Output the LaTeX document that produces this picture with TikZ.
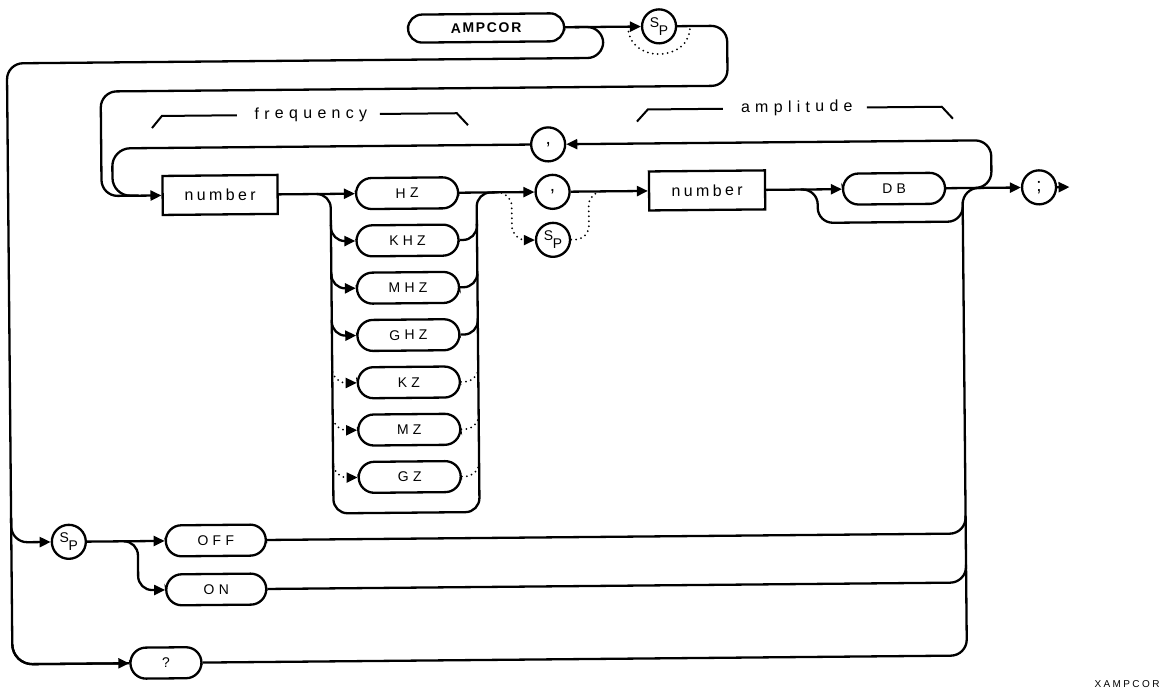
\documentclass[tikz,border=0pt]{standalone}
\usepackage{fontspec}
\setmainfont{Liberation Sans}
\newfontfamily\fcap[LetterSpace=30]{Liberation Sans}
\newfontfamily\flab[LetterSpace=33]{Liberation Sans}
\newfontfamily\fnum[LetterSpace=21]{Liberation Sans}
\newfontfamily\fbold[LetterSpace=12]{Liberation Sans Bold}
\newfontfamily\fsmall[LetterSpace=24]{Liberation Sans}
\usetikzlibrary{arrows.meta}
\newcommand{\spt}{\raisebox{3.5pt}{S}\kern-0.5pt\raisebox{-5pt}{P}}
\tikzset{
  ln/.style={line width=2.3pt},
  tip/.style={-{Triangle[length=11pt,width=10pt]}},
  arr/.style={ln,tip},
  dots/.style={line width=2pt, line cap=round, dash pattern=on 0pt off 5pt},
  darr/.style={dots,tip},
  pill/.style={draw, line width=2.3pt, rounded corners=15.5pt, minimum height=31pt, inner sep=0pt, font=\fontsize{14}{16}\fcap},
  numbox/.style={draw, line width=2.3pt, minimum width=115pt, minimum height=39pt, inner sep=0pt, font=\fontsize{16}{18}\fnum},
  circ/.style={draw, line width=2.3pt, circle, minimum size=34pt, inner sep=0pt, font=\fontsize{19}{21}\selectfont},
  spc/.style={circ, font=\fontsize{14}{16}\selectfont},
  lab/.style={anchor=base, inner sep=0pt, font=\fontsize{16}{18}\flab},
  brk/.style={line width=2pt},
}
\begin{document}
\begin{tikzpicture}[x=1pt,y=-1pt]
\path[fill=white] (0,0) rectangle (1175,690);
\useasboundingbox (0,0) rectangle (1175,690);
\begin{scope}[rotate around={0.53:(590,345)}, transform shape]
% ---------- nodes ----------
\node[pill, minimum width=156pt, minimum height=28pt, rounded corners=14pt, font=\fontsize{14}{16}\fbold\bfseries] (amp) at (489,27) {AMPCOR};
\node[spc] (sp1) at (662,27) {\spt};
\node[numbox] (num1) at (221.5,191.5) {number};
\foreach \n/\t/\y in {hz/HZ/191.5, khz/KHZ/238.8, mhz/MHZ/286.1, ghz/GHZ/333.4, kz/KZ/380.7, mz/MZ/428, gz/GZ/475.3}
  \node[pill, minimum width=102pt] (\n) at (408.5,\y) {\t};
\node[circ] (c1) at (554,191.5) {,};
\node[spc] (sp2) at (554,239.5) {\spt};
\node[numbox, minimum width=116pt] (num2) at (708.5,191.5) {number};
\node[pill, minimum width=102pt] (db) at (895.5,191.5) {DB};
\node[circ] (semi) at (1040.5,191.5) {;};
\node[circ] (rep) at (550,144) {,};
\node[spc] (sp3) at (67,537) {\spt};
\node[pill, minimum width=100pt] (off) at (214,537) {OFF};
\node[pill, minimum width=100pt] (on) at (214,586) {ON};
\node[pill, minimum width=71pt] (q) at (163,659) {?};
% ---------- labels ----------
\draw[brk] (154,124) -- (164,112) -- (239,112);
\node[lab] (flab) at (313,116) {frequency};
\draw[brk] (382,112) -- (459,112) -- (470,124);
\draw[brk] (639,122) -- (650,110) -- (725,110);
\node[lab] (alab) at (799,114) {amplitude};
\draw[brk] (869,110) -- (944,110) -- (955,122);
% ---------- coordinates ----------
\coordinate (o1) at (578,27);
\coordinate (b3) at (9.5,513);
\coordinate (j1) at (140,191.5);
\coordinate (j0) at (128,191.5);
\coordinate (u1) at (318,191.5);
\coordinate (u2) at (496,191.5);
\coordinate (s1) at (500,191.5);
\coordinate (s2) at (604,191.5);
\coordinate (d1) at (631,27);
\coordinate (d2) at (693,27);
\coordinate (by1) at (802,191.5);
\coordinate (top) at (982,191.5);
\coordinate (r1) at (976,191.5);
\coordinate (fin) at (1071,191.5);
\coordinate (ob) at (122,537);
\coordinate (qb) at (9.5,640);
% ---------- connectors ----------
\draw[arr] (amp) -- (sp1);
\draw[dots] (d1) .. controls (631,64) and (693,64) .. (d2);
\draw[ln, rounded corners=16pt] (o1) -- (606,27) -- (606,58) -- (9.5,58) [rounded corners=20pt] -- (9.5,659) -- (q.west);
\draw[ln, tip, rounded corners=20pt] (qb) -- (9.5,659) -- (q.west);
\draw[arr, rounded corners=16pt] (b3) -- (9.5,537) -- (sp3.west);
\draw[ln, rounded corners=16pt] (sp1.east) -- (730,27) -- (730,87) -- (103,87) -- (103,191.5) -- (j1);
\draw[ln, rounded corners=18pt] (rep.west) -- (114,144) -- (114,191.5) -- (j1);
\draw[arr] (j0) -- (num1.west);
\draw[arr] (num1) -- (hz);
\draw[ln, rounded corners=14pt] (u1) -- (332,191.5) -- (332,511) -- (478,511) -- (478,191.5) -- (u2);
\foreach \n/\y in {khz/238.8, mhz/286.1, ghz/333.4} {
  \coordinate (\n-a) at (332,\y-16);
  \coordinate (\n-b) at (478,\y-16);
  \draw[arr, rounded corners=14pt] (\n-a) -- (332,\y) -- (\n.west);
  \draw[ln, rounded corners=14pt] (\n.east) -- (478,\y) -- (\n-b);
}
\foreach \n/\y in {kz/380.7, mz/428, gz/475.3} {
  \coordinate (\n-a) at (332,\y-16);
  \coordinate (\n-b) at (478,\y-16);
  \draw[darr, rounded corners=14pt] (\n-a) -- (332,\y) -- (\n.west);
  \draw[dots, rounded corners=14pt] (\n.east) -- (478,\y) -- (\n-b);
}
\draw[arr] (hz) -- (c1);
\draw[darr, rounded corners=14pt] (s1) -- (513,191.5) -- (513,239.5) -- (sp2.west);
\draw[dots, rounded corners=14pt] (sp2.east) -- (590,239.5) -- (590,191.5) -- (s2);
\draw[arr] (c1) -- (num2);
\draw[arr] (num2) -- (db);
\draw[arr] (db) -- (semi);
\draw[arr] (semi) -- (fin);
\draw[ln, rounded corners=15pt] (by1) -- (819,191.5) -- (819,225) -- (964,225) -- (964,205);
\draw[ln, rounded corners=16pt] (q.east) -- (964,659) -- (964,191.5) -- (top);
\draw[ln, rounded corners=16pt] (off.east) -- (964,537) -- (964,519);
\draw[ln, rounded corners=16pt] (on.east) -- (964,586) -- (964,568);
\draw[arr, rounded corners=16pt] (r1) -- (993,191.5) -- (993,144) -- (rep.east);
\draw[arr] (sp3) -- (off);
\draw[arr, rounded corners=14pt] (ob) -- (136,537) -- (136,586) -- (on.west);
\end{scope}
\node[anchor=base, inner sep=0pt, font=\fontsize{10}{12}\fsmall] (fig) at (1127,687) {XAMPCOR};
\end{tikzpicture}
\end{document}
